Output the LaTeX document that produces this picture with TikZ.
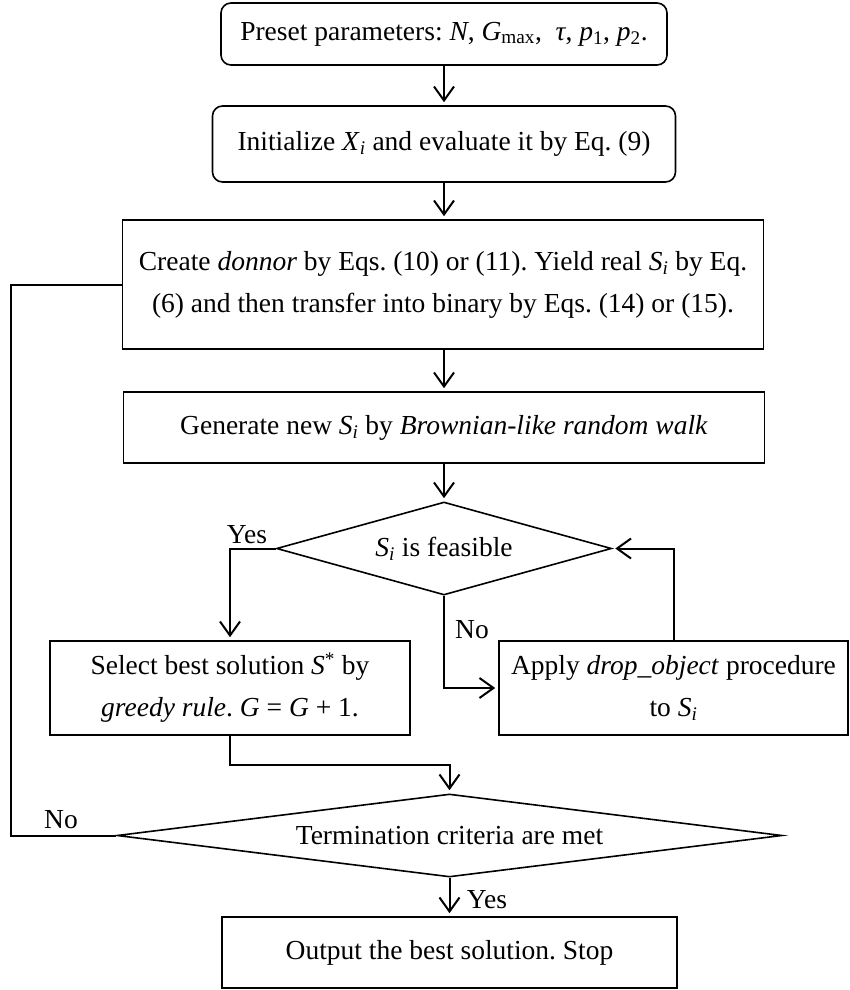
\documentclass[tikz,border=0pt]{standalone}
\usepackage{fontspec}
\setmainfont{Liberation Serif}
\usetikzlibrary{shapes.geometric,arrows.meta}
\newcommand{\subvar}[2]{\textit{#1}\textsubscript{#2}}
\frenchspacing
\begin{document}
\begin{tikzpicture}[x=1pt,y=-1pt,
  every node/.style={font=\fontsize{27.5}{42}\selectfont},
  box/.style={draw,line width=1.6pt,align=center,inner sep=0pt},
  dec/.style={draw,diamond,line width=1.6pt,inner sep=0pt,align=center},
  arr/.style={line width=2pt,-{Straight Barb[length=14pt,width=20pt]},shorten >=3pt},
  lnk/.style={line width=2pt}]
% search procedure flowchart
\useasboundingbox (0,0) rectangle (849,990);
\node[box,rounded corners=10pt,minimum width=446pt,minimum height=62pt] (preset) at (444,34) {Preset parameters: \textit{N}, \subvar{G}{max}, \ \textit{τ}, \subvar{p}{1}, \subvar{p}{2}.};
\node[box,rounded corners=10pt,minimum width=463pt,minimum height=76pt] (init) at (444,144) {Initialize \subvar{X}{\textit{i}} and evaluate it by Eq. (9)};
\node[box,minimum width=641pt,minimum height=129pt] (create) at (443,284.5) {Create \textit{donnor} by Eqs. (10) or (11). Yield real \subvar{S}{\textit{i}} by Eq.\\(6) and then transfer into binary by Eqs. (14) or (15).};
\node[box,minimum width=641pt,minimum height=71pt] (walk) at (444,427.5) {Generate new \subvar{S}{\textit{i}} by \textit{Brownian-like random walk}};
\node[dec,aspect=3.6,minimum width=335pt,minimum height=93pt] (feas) at (444,548.5) {\subvar{S}{\textit{i}} is feasible};
\node[box,minimum width=360pt,minimum height=94pt] (select) at (230,688) {Select best solution \textit{S}\textsuperscript{*} by\\\textit{greedy rule}. \textit{G} = \textit{G} + 1.};
\node[box,minimum width=349pt,minimum height=94pt] (drop) at (673.5,688) {Apply \textit{drop\_object} procedure\\to \subvar{S}{\textit{i}}};
\node[dec,aspect=8,minimum width=665pt,minimum height=83pt] (term) at (449.5,835.5) {Termination criteria are met};
\node[box,minimum width=455pt,minimum height=71pt] (stop) at (449.5,952.5) {Output the best solution. Stop};
\node (yesA) at (247,535) {Yes};
\node (noA) at (472,630) {No};
\node (noB) at (61,820) {No};
\node (yesB) at (487,900) {Yes};
\coordinate (join) at (449.5,765);
\coordinate (back) at (11,835.5);
\draw[arr] (preset.south) -- (init.north);
\draw[arr] (init.south) -- (init.south |- create.north);
\draw[arr] (walk.north |- create.south) -- (walk.north);
\draw[arr] (walk.south) -- (feas.north);
\draw[arr] (feas.west) -| (select.north);
\draw[arr] (feas.south) |- (drop.west);
\draw[arr] (drop.north) |- (feas.east);
\draw[arr] (select.south) |- (join) -- (term.north);
\draw[lnk] (term.west) -- (back) |- (create.west);
\draw[arr] (term.south) -- (stop.north);
\end{tikzpicture}
\end{document}
